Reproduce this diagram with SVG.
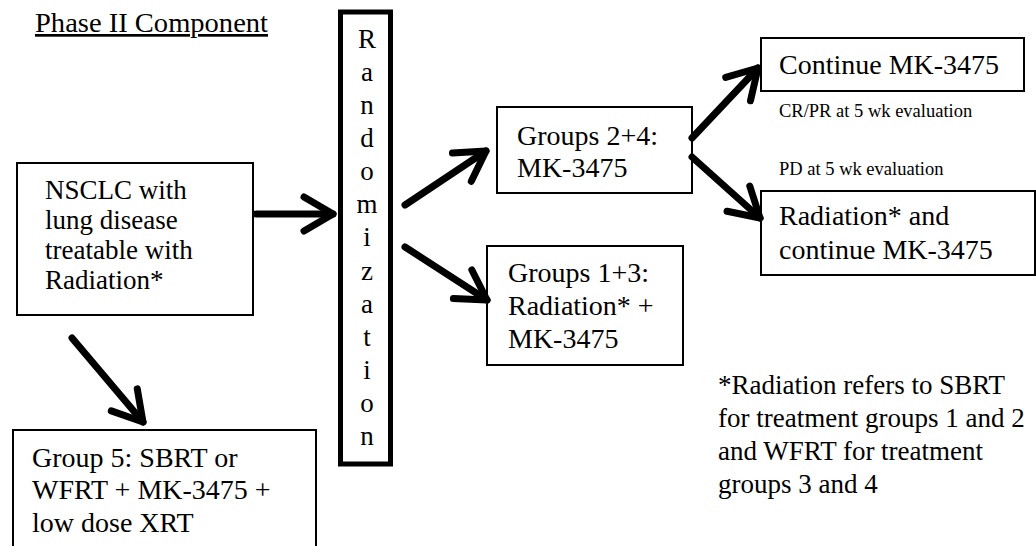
<svg xmlns="http://www.w3.org/2000/svg" width="1036" height="546" viewBox="0 0 1036 546" font-family="'Liberation Serif', 'Times New Roman', serif">
<style>
text { font-family: "Liberation Serif", "Times New Roman", serif; fill: #000; }
.box { fill: #fff; stroke: #000; stroke-width: 2; }
.rbox { fill: #fff; stroke: #000; stroke-width: 5; }
.fa { font-size: 27px; }
.fb { font-size: 28px; }
.sm { font-size: 18.5px; }
.ltr { font-size: 27px; text-anchor: middle; }
.arr { fill: none; stroke: #000; stroke-width: 7; stroke-linecap: round; stroke-linejoin: round; }
</style>
<defs>
<marker id="head" markerUnits="userSpaceOnUse" orient="auto" refX="0" refY="0" markerWidth="80" markerHeight="80" viewBox="-40 -40 80 80" overflow="visible">
<path d="M -29 -17 L 0 0 L -29 17" fill="none" stroke="#000" stroke-width="7" stroke-linecap="round" stroke-linejoin="round"/>
</marker>
</defs>
<rect width="1036" height="546" fill="#fff"/>
<text id="title" class="fa" x="35" y="32" text-decoration="underline" textLength="233" lengthAdjust="spacingAndGlyphs">Phase II Component</text>
<g id="nsclc">
<rect class="box" x="17" y="163" width="236" height="152"/>
<text class="fa" x="45" y="199">NSCLC with</text>
<text class="fa" x="45" y="229">lung disease</text>
<text class="fa" x="45" y="259">treatable with</text>
<text class="fa" x="45" y="289">Radiation*</text>
</g>
<g id="randomization">
<rect class="rbox" x="340.5" y="12" width="50" height="452"/>
<text class="ltr" x="367" y="48">R</text>
<text class="ltr" x="367" y="81">a</text>
<text class="ltr" x="367" y="114">n</text>
<text class="ltr" x="367" y="147">d</text>
<text class="ltr" x="367" y="180">o</text>
<text class="ltr" x="367" y="213">m</text>
<text class="ltr" x="367" y="246">i</text>
<text class="ltr" x="367" y="280">z</text>
<text class="ltr" x="367" y="313">a</text>
<text class="ltr" x="367" y="346">t</text>
<text class="ltr" x="367" y="379">i</text>
<text class="ltr" x="367" y="412">o</text>
<text class="ltr" x="367" y="445">n</text>
</g>
<g id="groups24">
<rect class="box" x="497" y="107" width="195" height="86"/>
<text class="fb" x="517" y="145">Groups 2+4:</text>
<text class="fb" x="517" y="177">MK-3475</text>
</g>
<g id="groups13">
<rect class="box" x="487" y="246" width="196" height="119"/>
<text class="fb" x="508" y="282">Groups 1+3:</text>
<text class="fb" x="508" y="315">Radiation* +</text>
<text class="fb" x="508" y="348">MK-3475</text>
</g>
<g id="continue">
<rect class="box" x="761" y="38" width="263" height="53"/>
<text class="fb" x="779" y="74">Continue MK-3475</text>
</g>
<g id="radiation">
<rect class="box" x="761" y="191" width="274" height="84"/>
<text class="fb" x="779" y="225">Radiation* and</text>
<text class="fb" x="779" y="259">continue MK-3475</text>
</g>
<g id="group5">
<rect class="box" x="13" y="430" width="303" height="130"/>
<text class="fb" x="32" y="467">Group 5: SBRT or</text>
<text class="fb" x="32" y="499">WFRT + MK-3475 +</text>
<text class="fb" x="32" y="532">low dose XRT</text>
</g>
<g id="labels">
<text class="sm" x="779" y="117">CR/PR at 5 wk evaluation</text>
<text class="sm" x="779" y="175">PD at 5 wk evaluation</text>
</g>
<g id="footnote">
<text class="fa" x="718" y="394">*Radiation refers to SBRT</text>
<text class="fa" x="718" y="427">for treatment groups 1 and 2</text>
<text class="fa" x="718" y="460">and WFRT for treatment</text>
<text class="fa" x="718" y="493">groups 3 and 4</text>
</g>
<g id="connectors">
<path class="arr" d="M 256 214 L 333 214" marker-end="url(#head)"/>
<path class="arr" d="M 405 205 L 486 151" marker-end="url(#head)"/>
<path class="arr" d="M 405 247 L 487 300" marker-end="url(#head)"/>
<path class="arr" d="M 692 138 L 758 68" marker-end="url(#head)"/>
<path class="arr" d="M 692 157 L 760 218" marker-end="url(#head)"/>
<path class="arr" d="M 72 338 L 143 422" marker-end="url(#head)"/>
</g>
</svg>
